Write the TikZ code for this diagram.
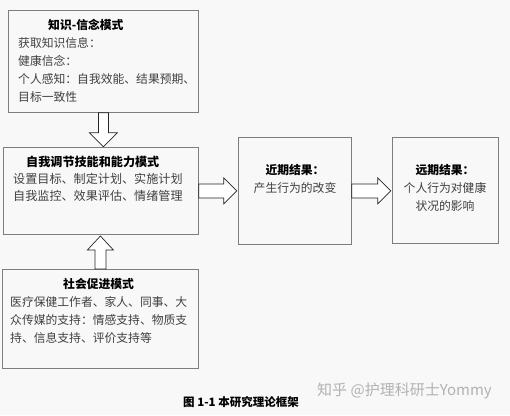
\documentclass[tikz,border=0pt]{standalone}
\usepackage{fontspec}
\setmainfont{Noto Sans CJK SC}
\usetikzlibrary{calc}
\definecolor{BgGray}{RGB}{248,248,248}
\definecolor{BoxGray}{RGB}{125,125,125}
\colorlet{TxtGray}{black!75}

\begin{document}
\begin{tikzpicture}[x=1pt,y=-1pt,
    box/.style={draw=BoxGray, line width=0.8pt, anchor=north west, inner sep=0pt},
    txt/.style={anchor=north west, inner sep=0pt, align=left, text=TxtGray,
                font=\fontsize{11.8}{18}\selectfont},
    ttl/.style={text=black, font=\bfseries},
    hollow/.style={draw=black!85, fill=white, line width=0.7pt, line join=miter}]
    % background, fixes the size
    \fill[BgGray] (0,0) rectangle (510,415);

%    boxes
    \node[box, minimum width=190pt, minimum height=102pt] (k) at (8,10) {};
    \node[box, minimum width=195pt, minimum height=87pt] (r) at (3,147) {};
    \node[box, minimum width=196pt, minimum height=99pt] (m) at (2,269) {};
    \node[box, minimum width=113pt, minimum height=107pt] (n) at (238,137) {};
    \node[box, minimum width=106pt, minimum height=106pt] (f) at (392,137) {};

%    texts
    \node[txt] (kt) at (18,19) {\hspace*{30pt}{\color{black}\bfseries 知识-信念模式}\\
        获取知识信息：\\健康信念：\\个人感知：自我效能、结果预期、\\目标一致性};
    \node[txt, font=\fontsize{12.1}{17}\selectfont] (rt) at (13,156) {\hspace*{13pt}{\color{black}\bfseries 自我调节技能和能力模式}\\
        设置目标、制定计划、实施计划\\自我监控、效果评估、情绪管理};
    \node[txt] (mt) at (10,278) {\hspace*{53pt}{\color{black}\bfseries 社会促进模式}\\
        医疗保健工作者、家人、同事、大\\众传媒的支持：情感支持、物质支\\持、信息支持、评价支持等};
    \node[txt, anchor=center, align=center] (nt) at (295,179) {{\color{black}\bfseries 近期结果：}\\产生行为的改变};
    \node[txt, anchor=center, align=center] (ft) at (445,187.5) {{\color{black}\bfseries 远期结果：}\\个人行为对健康\\状况的影响};

%    hollow arrows
    \draw[hollow] ($(k.south)+(-5,0)$) -- ++(0,20) -- ++(-9,0) -- ++(14,14) -- ++(14,-14) -- ++(-9,0) -- ++(0,-20) -- cycle;
    \draw[hollow] ($(m.north)+(-5.5,0)$) -- ++(0,-19) -- ++(-7.5,0) -- ++(13,-14) -- ++(13,14) -- ++(-7.5,0) -- ++(0,19) -- cycle;
    \draw[hollow] ($(r.east)+(0,-7)$) -- ++(25,0) -- ++(0,-6) -- ++(13,13) -- ++(-13,13) -- ++(0,-6) -- ++(-25,0) -- cycle;
    \draw[hollow] ($(n.east)+(0,-7)$) -- ++(26,0) -- ++(0,-6) -- ++(13,13) -- ++(-13,13) -- ++(0,-6) -- ++(-26,0) -- cycle;

%    caption
    \node[anchor=west, inner sep=0pt, font=\bfseries\fontsize{11.5}{12}\selectfont] (cap) at (183,402) {图 1-1 本研究理论框架};
    \node[anchor=west, inner sep=0pt, text=black!30, font=\fontsize{15}{15}\selectfont] (wm) at (317,391) {知乎 @护理科研士Yommy};
\end{tikzpicture}
\end{document}
